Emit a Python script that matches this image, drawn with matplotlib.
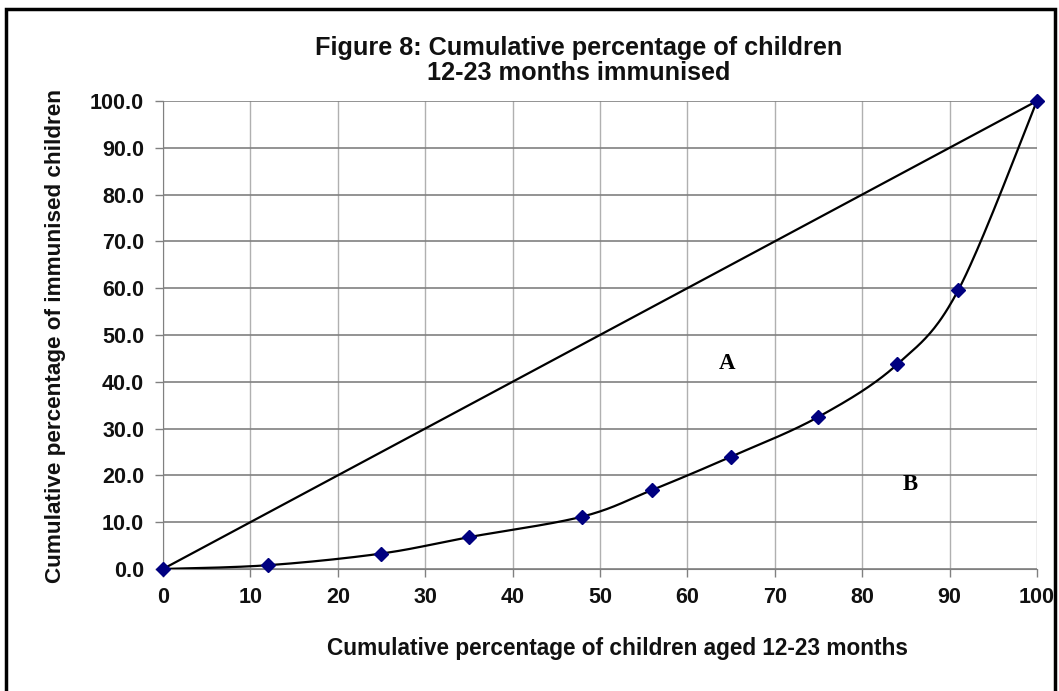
import numpy as np
import matplotlib
matplotlib.use("Agg")
import matplotlib.pyplot as plt
from matplotlib.patches import Rectangle

# Data
x_pct = [0, 12, 25, 35, 48, 56, 65, 75, 84, 91, 100]
y_pct = [0.0, 0.8, 3.3, 6.8, 11.2, 16.9, 24.0, 32.5, 43.7, 59.6, 100.0]
equality_x = [0, 100]
equality_y = [0, 100]
x_ticks = list(range(0, 101, 10))
y_ticks = list(range(0, 101, 10))

def smooth(xs, ys, n=40):
    xs = np.asarray(xs, float); ys = np.asarray(ys, float)
    px = np.concatenate([[xs[0]], xs, [xs[-1]]])
    py = np.concatenate([[ys[0]], ys, [ys[-1]]])
    outx, outy = [], []
    t = np.linspace(0, 1, n)
    for i in range(1, len(px) - 2):
        p0 = np.array([px[i-1], py[i-1]]); p1 = np.array([px[i], py[i]])
        p2 = np.array([px[i+1], py[i+1]]); p3 = np.array([px[i+2], py[i+2]])
        c1 = p1 + (p2 - p0) / 6.0
        c2 = p2 - (p3 - p1) / 6.0
        b = ((1-t)**3)[:, None]*p1 + (3*(1-t)**2*t)[:, None]*c1 + (3*(1-t)*t**2)[:, None]*c2 + (t**3)[:, None]*p2
        outx.extend(b[:, 0]); outy.extend(b[:, 1])
    return outx, outy

plt.rcParams['font.family'] = ['Liberation Sans', 'DejaVu Sans']

fig = plt.figure(figsize=(10.59, 6.91), dpi=100)
ax = fig.add_axes([0.1539, 0.1766, 0.8253, 0.6773])

ax.set_xlim(0, 100)
ax.set_ylim(0, 100)
ax.set_xticks(x_ticks)
ax.set_yticks(y_ticks)
ax.set_yticklabels([f"{v:.1f}" for v in y_ticks])
ax.tick_params(axis='both', labelsize=15.5, length=5.5, width=1, color='#808080')
for lab in ax.get_xticklabels() + ax.get_yticklabels():
    lab.set_fontweight('bold')
    lab.set_color('#111111')
ax.tick_params(axis='x', pad=7.5)
ax.tick_params(axis='y', pad=8)

ax.grid(axis='x', color='#b0b0b0', linewidth=1)
ax.grid(axis='y', color='#808080', linewidth=1.2)
ax.set_axisbelow(True)
for s in ['top', 'right']:
    ax.spines[s].set_visible(False)
ax.spines['left'].set_color('#808080')
ax.spines['bottom'].set_color('#808080')

ax.plot(equality_x, equality_y, color='black', linewidth=1.6, zorder=3)
sx, sy = smooth(x_pct, y_pct)
ax.plot(sx, sy, color='black', linewidth=1.6, zorder=3)
ax.plot(x_pct, y_pct, linestyle='none', marker='D', markersize=7,
        color='#000080', markeredgecolor='#000080', zorder=4, clip_on=False)

ax.text(64.5, 44, 'A', family='Liberation Serif', fontweight='bold', fontsize=16.5, ha='center', va='center')
ax.text(85.5, 18, 'B', family='Liberation Serif', fontweight='bold', fontsize=16.5, ha='center', va='center')

fig.text(0.546, 0.912, 'Figure 8: Cumulative percentage of children\n12-23 months immunised',
         ha='center', va='center', fontsize=18.2, fontweight='bold', linespacing=1.05,
         color='#111111')
fig.text(0.583, 0.061, 'Cumulative percentage of children aged 12-23 months',
         ha='center', va='center', fontsize=16.3, fontweight='bold', color='#111111')
fig.text(0.052, 0.514, 'Cumulative percentage of immunised children', rotation=90,
         ha='center', va='center', fontsize=16.2, fontweight='bold', color='#111111')

fig.patches.append(Rectangle((0.006, -0.05), 0.99, 1.037, transform=fig.transFigure,
                             fill=False, edgecolor='black', linewidth=2.5))

fig.savefig('out.png', dpi=100)
